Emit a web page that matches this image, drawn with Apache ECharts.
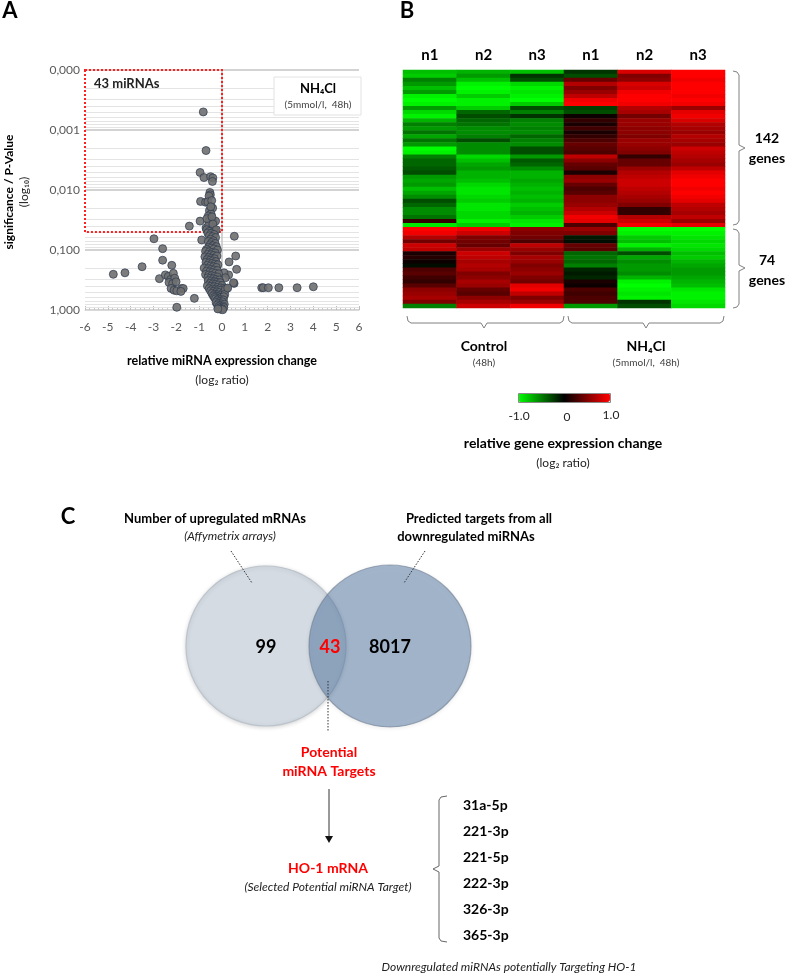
<!DOCTYPE html>
<html><head><meta charset="utf-8">
<script src="https://cdn.jsdelivr.net/npm/echarts@6/dist/echarts.min.js"></script>
<style>html,body{margin:0;padding:0;background:#fff}#c{width:787px;height:973px}</style>
</head><body><div id="c"></div>
<script>
// ---------- Panel A: volcano plot data [log2 ratio, p-value] ----------
const volcanoBox = [
[-0.82,0.0005],[-0.70,0.0022],[-0.96,0.0051],[-0.79,0.0062],[-0.50,0.0060],[-0.40,0.0063],[-0.42,0.0072],
[-0.53,0.011],[-0.51,0.012],[-0.57,0.0126],[-0.94,0.0155],[-0.72,0.016],[-0.62,0.0158],[-0.45,0.015],
[-0.41,0.020],[-0.55,0.022],[-0.48,0.025],[-0.60,0.027],[-0.96,0.033],[-0.52,0.031],[-0.38,0.034],
[-0.47,0.036],[-0.58,0.034],[-0.28,0.033],[-1.43,0.040],[-0.70,0.043],[-0.55,0.042],[-0.42,0.041],
[-0.34,0.045],[-0.50,0.047],[-0.62,0.048],[-0.45,0.049],[-0.30,0.048],[-0.58,0.038],[-0.66,0.030],
[-0.44,0.028],[-0.36,0.044],[-0.52,0.046],[-0.40,0.037],[-0.49,0.019],[-0.67,0.046],[-0.25,0.046],[-0.56,0.049]
];
const volcanoLeft = [
[-2.98,0.065],[-2.60,0.095],[-2.60,0.148],[-3.50,0.19],[-4.76,0.254],[-4.25,0.24],[-2.20,0.18],
[-2.74,0.30],[-2.48,0.26],[-2.35,0.275],[-2.25,0.31],[-2.13,0.245],[-2.07,0.295],[-2.32,0.347],
[-2.16,0.363],[-2.01,0.339],[-2.23,0.437],[-2.10,0.468],[-1.98,0.479],[-1.77,0.437],[-1.70,0.437],
[-1.80,0.49],[-1.98,0.90],[-1.21,0.64],[-0.89,0.068]
];
const volcanoRight = [
[0.54,0.059],[0.60,0.126],[0.31,0.158],[0.64,0.21],[0.53,0.36],[0.29,0.26],[0.50,0.35],[0.09,0.24],[0.15,0.29],
[1.74,0.425],[1.81,0.425],[2.03,0.425],[2.49,0.425],[3.29,0.425],[4.00,0.41]
];
const volcanoCore = [
[-0.62,0.052],[-0.48,0.053],[-0.35,0.055],[-0.55,0.058],[-0.42,0.06],[-0.28,0.062],[-0.5,0.066],[-0.38,0.07],
[-0.6,0.072],[-0.45,0.075],[-0.3,0.078],[-0.52,0.082],[-0.4,0.085],[-0.25,0.088],[-0.58,0.09],[-0.47,0.093],
[-0.35,0.096],[-0.68,0.098],[-0.2,0.1],
[-0.72,0.105],[-0.55,0.107],[-0.42,0.11],[-0.3,0.112],[-0.62,0.118],[-0.48,0.12],[-0.36,0.123],[-0.22,0.126],
[-0.75,0.13],[-0.58,0.133],[-0.45,0.137],[-0.33,0.14],[-0.66,0.145],[-0.52,0.148],[-0.4,0.152],[-0.27,0.156],
[-0.7,0.16],[-0.56,0.164],[-0.44,0.168],[-0.31,0.172],[-0.18,0.176],[-0.64,0.18],[-0.5,0.185],[-0.38,0.19],
[-0.25,0.195],[-0.78,0.2],[-0.6,0.205],[-0.47,0.21],[-0.35,0.215],[-0.21,0.22],[-0.68,0.226],[-0.54,0.232],
[-0.42,0.238],[-0.29,0.244],[-0.15,0.25],[-0.72,0.256],[-0.58,0.262],[-0.45,0.268],[-0.33,0.275],[-0.2,0.282],
[-0.62,0.29],[-0.5,0.296],[-0.38,0.302],[-0.26,0.31],[-0.12,0.316],
[-0.6,0.325],[-0.46,0.33],[-0.34,0.338],[-0.22,0.345],[-0.08,0.35],[-0.52,0.36],[-0.4,0.368],[-0.28,0.375],
[-0.15,0.383],[0.0,0.39],[-0.64,0.395],[-0.48,0.402],[-0.35,0.41],[-0.2,0.42],[-0.05,0.428],[0.1,0.43],
[-0.56,0.44],[-0.42,0.448],[-0.3,0.455],[-0.18,0.462],[-0.06,0.47],[0.2,0.44],[-0.5,0.48],[-0.37,0.49],
[-0.24,0.5],[-0.12,0.51],[0.05,0.52],[-0.44,0.53],[-0.31,0.545],[-0.19,0.555],[-0.07,0.565],[0.15,0.45],
[-0.38,0.58],[-0.26,0.59],[-0.14,0.6],[-0.02,0.61],[0.12,0.55],[-0.33,0.62],[-0.1,0.63],[0.25,0.43],[0.08,0.6],
[-0.28,0.65],[-0.16,0.66],[-0.04,0.67],[0.06,0.68],[-0.22,0.7],[-0.1,0.72],[0.02,0.73],[-0.26,0.75],
[-0.14,0.77],[-0.02,0.79],[0.1,0.8],[-0.2,0.82],[-0.08,0.84],[0.04,0.86],[-0.15,0.88],[-0.03,0.9],
[0.08,0.91],[-0.12,0.93],[0.0,0.95],[-0.06,0.97],[0.03,0.99],[-0.18,0.96]
];
const xTicks = [-6,6];               // log2 ratio axis range
const pRange = [0.0001, 1];          // p-value axis range
const minorFactors = [2,3,4,5,6,7,8,9];
const decades = [0.0001,0.001,0.01,0.1];
const sigThreshold = 0.05;
const boxLabel = '43 miRNAs';

// ---------- Panel B: heatmap (rows: 142 up genes block, 74 down genes block) ----------
const colLabels = ['n1','n2','n3','n1 ','n2 ','n3 '];
const ctrlN1 = [-0.75,-0.8,-0.5,-0.6,-0.75,-0.6,-0.95,-1.0,-0.95,-0.6,-0.85,-0.95,-0.7,-0.5,-0.6,-0.45,-0.65,-0.45,-0.6,
 -1.0,-0.95,-0.5,-0.4,-0.4,-0.35,-0.3,-0.6,-0.65,-0.6,-0.75,-0.65,-0.55,-0.3,-0.4,-0.55,-0.55,-0.45,0.2,-0.9,
 1.0,0.95,0.7,0.45,0.8,0.75,0.1,0.15,0.05,-0.05,0.3,0.35,0.25,0.2,0.35,0.55,0.6,0.65,0.5,-0.5];
const ctrlN2 = [-0.7,-0.6,-0.75,-0.95,-1.0,-0.95,-0.8,-0.95,-0.95,-0.8,-0.4,-0.3,-0.4,-0.45,-0.55,-0.55,-0.5,-0.3,-0.55,
 -0.55,-0.55,-0.85,-0.75,-0.65,-0.6,-0.7,-0.7,-0.75,-0.85,-0.9,-0.9,-0.85,-0.8,-0.9,-0.9,-0.85,-0.85,-0.95,-0.8,
 0.95,0.8,0.5,0.45,0.4,0.6,0.8,0.75,0.65,0.7,0.65,0.5,0.55,0.65,0.6,0.4,0.35,0.55,0.65,0.8];
const ctrlN3 = [-0.75,-0.2,-0.3,-0.85,-0.95,-0.9,-0.95,-1.0,-0.8,-0.3,-0.5,-0.2,-0.5,-0.55,-0.5,-0.55,-0.4,-0.5,-0.55,
 -0.3,-0.3,-0.6,-0.35,-0.4,-0.55,-0.7,-0.7,-0.65,-0.7,-0.75,-0.7,-0.75,-0.7,-0.8,-0.75,-0.7,-0.8,-0.9,-0.95,
 0.55,0.5,0.45,0.3,0.75,0.6,0.5,0.65,0.6,0.5,0.55,0.6,0.5,0.45,0.9,0.95,0.75,0.5,0.6,0.95];
const nh4N1 = [-0.2,-0.3,0.4,0.7,0.5,0.6,0.75,0.95,1.0,-0.25,-0.3,0.05,0.2,0.1,0.25,0.1,0.2,0.3,0.4,
 0.35,0.3,0.75,0.55,0.4,0.35,0.1,0.55,0.6,0.4,0.3,0.35,0.55,0.55,0.6,0.7,0.8,0.95,0.9,0.3,
 0.6,0.5,-0.1,-0.05,0.4,0.35,-0.4,-0.45,-0.4,-0.5,-0.15,-0.1,-0.15,0.1,0.05,0.3,0.25,0.3,0.3,-0.6];
const nh4N2 = [0.85,0.5,0.55,0.85,0.8,0.95,1.0,1.0,0.95,0.7,0.65,0.45,0.6,0.6,0.55,0.55,0.5,0.6,0.6,
 0.55,0.5,0.2,0.4,0.4,0.6,0.7,0.75,0.8,0.8,0.75,0.7,0.65,0.6,0.5,0.2,0.2,0.7,0.8,0.95,
 -1.0,-0.95,-0.8,-0.75,-0.95,-0.7,-0.3,-0.65,-0.55,-0.6,-0.6,-0.55,-0.7,-0.95,-1.0,-0.95,-0.9,-0.95,-0.2,-0.3];
const nh4N3 = [1.0,1.0,0.95,1.0,1.0,1.0,0.95,1.0,0.95,0.6,0.9,0.95,0.85,0.7,0.65,0.6,0.7,0.65,0.6,
 0.8,0.75,0.7,0.65,0.6,0.75,0.9,0.95,1.0,1.0,0.95,1.0,0.95,0.9,0.75,0.7,0.65,0.75,0.6,0.9,
 -1.0,-0.95,-0.9,-0.85,-0.9,-0.85,-0.75,-0.8,-0.7,-0.65,-0.6,-0.6,-0.65,-0.7,-0.75,-0.9,-0.95,-0.95,-0.9,-0.85];
const heatColumns = [ctrlN1, ctrlN2, ctrlN3, nh4N1, nh4N2, nh4N3];
const geneBlocks = ['142', '74'];
const colorRange = [-1, 1];

// ---------- Panel C: Venn ----------
const vennCounts = {left: 99, both: 43, right: 8017};
const miRNAs = ['31a-5p','221-3p','221-5p','222-3p','326-3p','365-3p'];

// ---------- build ----------
const FF = 'Lato, "Open Sans", sans-serif';
const rowIds = ctrlN1.map((_, i) => 'r' + i);
const heatData = [];
heatColumns.forEach((col, ci) => col.forEach((v, ri) => heatData.push([ci, ri, v])));

const minorValues = [];
decades.forEach(d => minorFactors.forEach(f => minorValues.push(+(d * f).toPrecision(3))));

function T(x, y, text, o) {
  o = o || {};
  return {type: 'text', x: x, y: y, rotation: o.rot || 0, z: 50,
    style: {text: text, fontFamily: FF, fontSize: o.size || 12, fontWeight: o.bold ? 'bold' : 'normal',
      fontStyle: o.italic ? 'italic' : 'normal', fill: o.color || '#000',
      textAlign: o.align || 'center', textVerticalAlign: 'middle', align: o.align || 'center', verticalAlign: 'middle'}};
}
function P(points, o) {
  o = o || {};
  return {type: 'polyline', z: 50, shape: {points: points},
    style: {stroke: o.color || '#808080', lineWidth: o.w || 1, fill: null, lineDash: o.dash || null}};
}

const graphics = [
  T(10, 11, 'A', {size: 22, bold: true}),
  T(407, 11, 'B', {size: 22, bold: true}),
  T(68, 517, 'C', {size: 22, bold: true}),
  // Panel A titles
  T(9, 192, 'significance / P-Value', {bold: true, rot: Math.PI / 2}),
  T(24, 192, '(log\u2081\u2080)', {rot: Math.PI / 2, color: '#222'}),
  T(222, 361, 'relative miRNA expression change', {bold: true, size: 12.5}),
  T(222, 380, '(log\u2082 ratio)', {color: '#222'}),
  T(94, 84, boxLabel, {bold: true, size: 13, align: 'left', color: '#222'}),
  // legend box in A
  {type: 'rect', z: 40, shape: {x: 274, y: 77, width: 87, height: 38}, style: {fill: '#fff', stroke: '#e2e2e2', lineWidth: 1}},
  T(318, 89, 'NH\u2084Cl', {bold: true, size: 13}),
  T(318, 105, '(5mmol/l,  48h)', {size: 10, color: '#404040'}),
  // Panel B brackets and labels
  P([[733,71],[737,72],[739,75],[739,145],[745,148],[739,151],[739,221],[737,224],[733,225]]),
  P([[733,229],[737,230],[739,233],[739,265],[745,268],[739,271],[739,304],[737,307],[733,308]]),
  T(767, 138, geneBlocks[0], {bold: true, size: 14}),
  T(767, 158, 'genes', {bold: true, size: 14}),
  T(767, 260, geneBlocks[1], {bold: true, size: 14}),
  T(767, 280, 'genes', {bold: true, size: 14}),
  P([[407,316],[408,321],[411,323],[481,323],[484,328],[487,323],[560,323],[563,321],[564,316]]),
  P([[568,316],[569,321],[572,323],[643,323],[646,328],[649,323],[720,323],[723,321],[724,316]]),
  T(484, 346, 'Control', {bold: true, size: 14}),
  T(484, 363, '(48h)', {size: 10, color: '#404040'}),
  T(646, 346, 'NH\u2084Cl', {bold: true, size: 14}),
  T(646, 363, '(5mmol/l,  48h)', {size: 10, color: '#404040'}),
  {type: 'rect', z: 60, shape: {x: 518.5, y: 393.5, width: 92, height: 9}, style: {fill: null, stroke: '#8a8a8a', lineWidth: 1}},
  T(519, 416, colorRange[0].toFixed(1), {size: 12, color: '#222'}),
  T(567, 417, '0', {size: 12, color: '#222'}),
  T(611, 415, colorRange[1].toFixed(1), {size: 12, color: '#222'}),
  T(563, 443, 'relative gene expression change', {bold: true, size: 14}),
  T(563, 463, '(log\u2082 ratio)', {size: 12, color: '#222'}),
  // Panel C Venn
  {type: 'circle', z: 20, shape: {cx: 266, cy: 646, r: 80},
    style: {fill: '#d4dbe3', stroke: '#bcc3cb', lineWidth: 1.2, shadowBlur: 4, shadowColor: 'rgba(0,0,0,0.15)', shadowOffsetY: 1}},
  {type: 'circle', z: 21, shape: {cx: 390, cy: 646, r: 81},
    style: {fill: 'rgba(88,124,166,0.52)', stroke: 'rgba(110,125,145,0.6)', lineWidth: 1.2, shadowBlur: 4, shadowColor: 'rgba(0,0,0,0.12)', shadowOffsetY: 1}},
  T(215, 519, 'Number of upregulated mRNAs', {bold: true, size: 13}),
  T(230, 536, '(Affymetrix arrays)', {italic: true, size: 12, color: '#222'}),
  T(479, 519, 'Predicted targets from all', {bold: true, size: 13}),
  T(466, 537, 'downregulated miRNAs', {bold: true, size: 13}),
  P([[231,551],[252,583]], {color: '#333', dash: [1.5, 1.5]}),
  P([[425,551],[404,583]], {color: '#333', dash: [1.5, 1.5]}),
  P([[328,681],[328,731]], {color: '#333', dash: [1.5, 1.5]}),
  T(266, 647, String(vennCounts.left), {bold: true, size: 18}),
  T(330, 647, String(vennCounts.both), {bold: true, size: 18, color: '#ff0000'}),
  T(390, 647, String(vennCounts.right), {bold: true, size: 18}),
  T(329, 752, 'Potential', {bold: true, size: 14, color: '#ff0000'}),
  T(329, 771, 'miRNA Targets', {bold: true, size: 14, color: '#ff0000'}),
  P([[329,789],[329,837]], {color: '#333'}),
  {type: 'polygon', z: 50, shape: {points: [[325,836],[333,836],[329,843]]}, style: {fill: '#111'}},
  T(328, 868, 'HO-1 mRNA', {bold: true, size: 14, color: '#ff0000'}),
  T(328, 887, '(Selected Potential miRNA Target)', {italic: true, size: 12, color: '#222'}),
  P([[447,796],[441,797],[439,800],[439,866],[433,869],[439,872],[439,938],[441,941],[447,942]], {color: '#666'}),
  T(509, 967, 'Downregulated miRNAs potentially Targeting HO-1', {italic: true, size: 12, color: '#222'})
];
miRNAs.forEach((m, i) => graphics.push(T(463, 805 + i * 26, m, {bold: true, size: 14, align: 'left'})));

const allPoints = volcanoBox.concat(volcanoLeft, volcanoRight, volcanoCore);

const option = {
  backgroundColor: '#fff',
  animation: false,
  textStyle: {fontFamily: FF},
  grid: [
    {left: 85, top: 70, width: 274, height: 240},
    {left: 403, top: 70, width: 322, height: 238}
  ],
  xAxis: [
    {gridIndex: 0, type: 'value', min: xTicks[0], max: xTicks[1], interval: 1,
     axisLabel: {color: '#595959', fontSize: 12, margin: 11, fontFamily: FF},
     axisLine: {show: true, lineStyle: {color: '#d9d9d9'}},
     axisTick: {show: true, inside: true, length: 4, lineStyle: {color: '#bdbdbd'}},
     minorTick: {show: true, splitNumber: 5, length: 3, lineStyle: {color: '#c8c8c8'}},
     splitLine: {show: false}},
    {gridIndex: 1, type: 'category', data: colLabels, position: 'top',
     axisLine: {show: false}, axisTick: {show: false},
     axisLabel: {fontWeight: 'bold', fontSize: 15, color: '#000', margin: 7, fontFamily: FF, formatter: v => v.trim()}}
  ],
  yAxis: [
    {gridIndex: 0, type: 'log', logBase: 10, min: pRange[0], max: pRange[1], inverse: true,
     axisLine: {show: false}, axisTick: {show: false},
     axisLabel: {color: '#595959', fontSize: 12, margin: 5, fontFamily: FF,
       formatter: v => Number(v).toFixed(3).replace('.', ',')},
     splitLine: {show: true, lineStyle: {color: '#c4c4c4', width: 1.5}}},
    {gridIndex: 1, type: 'category', data: rowIds, inverse: true, show: false}
  ],
  visualMap: {
    type: 'continuous', seriesIndex: 3, min: colorRange[0], max: colorRange[1],
    inRange: {color: ['#00ff00', '#000000', '#ff0000']},
    orient: 'horizontal', left: 518, top: 393, itemWidth: 9, itemHeight: 92,
    calculable: false, hoverLink: false, padding: 0, text: null
  },
  series: [
    // minor (2..9) gridlines of the log axis
    {type: 'custom', xAxisIndex: 0, yAxisIndex: 0, silent: true, z: 1, clip: true,
     data: minorValues.map(v => [v]),
     encode: {y: 0},
     renderItem: function (params, api) {
       const v = api.value(0);
       const a = api.coord([xTicks[0], v]), b = api.coord([xTicks[1], v]);
       return {type: 'line', shape: {x1: a[0], y1: Math.round(a[1]) + 0.5, x2: b[0], y2: Math.round(b[1]) + 0.5},
         style: {stroke: '#e4e4e4', lineWidth: 1}};
     }},
    {type: 'scatter', xAxisIndex: 0, yAxisIndex: 0, data: [], z: 2, silent: true,
     markLine: {silent: true, symbol: 'none', label: {show: false}, z: 2,
       lineStyle: {color: '#c4c4c4', width: 1.5, type: 'solid'},
       data: [{xAxis: 0}]},
     markArea: {silent: true, z: 3,
       itemStyle: {color: 'rgba(0,0,0,0)', borderColor: '#ff2020', borderWidth: 2, borderType: 'dotted'},
       data: [[{xAxis: xTicks[0], yAxis: pRange[0]}, {xAxis: 0, yAxis: sigThreshold}]]}},
    {type: 'scatter', xAxisIndex: 0, yAxisIndex: 0, data: allPoints, z: 10, symbolSize: 8,
     itemStyle: {color: '#6f6f6f', borderColor: '#2c3b50', borderWidth: 0.8, opacity: 0.9}},
    {type: 'heatmap', xAxisIndex: 1, yAxisIndex: 1, data: heatData, silent: true,
     itemStyle: {borderWidth: 0}, emphasis: {disabled: true}}
  ],
  graphic: graphics
};
const chart = echarts.init(document.getElementById('c'), null, {renderer: 'canvas'});
chart.setOption(option);
</script></body></html>
